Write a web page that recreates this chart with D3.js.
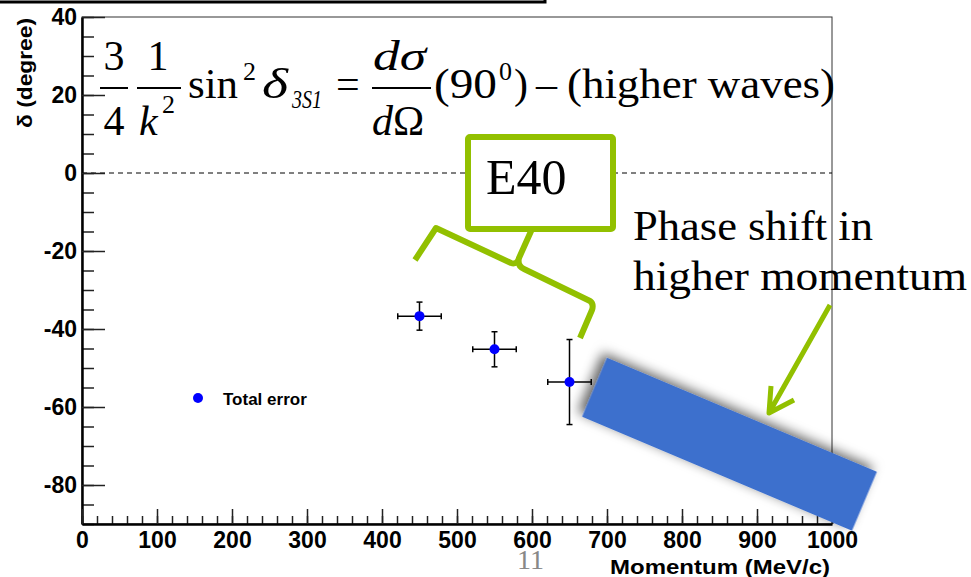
<!DOCTYPE html>
<html>
  <head>
    <title>Phase shift vs momentum</title>
    <meta charset="utf-8" />
    <style>
      body { margin: 0; background: #fff; }
      svg { display: block; }
      .axis text { font-family: "Liberation Sans", Arial, sans-serif; font-weight: bold; font-size: 23px; fill: #000; }
      .serif { font-family: "Liberation Serif", "Times New Roman", serif; fill: #000; }
    </style>
  </head>
  <body>
    <div id="plot"></div>

    <script src="https://d3js.org/d3.v7.min.js"></script>
    <script>
      // data
      const momentum = [450, 550, 650];
      const delta = [-36.7, -45.2, -53.6];
      const errMomentum = [29, 29, 29];
      const errDelta = [3.6, 4.5, 10.9];

      const xMajorTicks = [0, 100, 200, 300, 400, 500, 600, 700, 800, 900, 1000];
      const yMajorTicks = [-80, -60, -40, -20, 0, 20, 40];

      const width = 971, height = 577;
      const green = "#92c000";

      const svg = d3.select("#plot").append("svg")
        .attr("width", width)
        .attr("height", height);

      // black strip at the very top (slide title box, cut off)
      svg.append("path")
        .attr("d", "M0,2 H545 V-2")
        .attr("fill", "none")
        .attr("stroke", "#000")
        .attr("stroke-width", 3);

      const x = d3.scaleLinear().domain([0, 1000]).range([82, 832]);
      const y = d3.scaleLinear().domain([-90, 40]).range([524, 17]);

      // frame
      svg.append("rect")
        .attr("x", x(0)).attr("y", y(40))
        .attr("width", x(1000) - x(0))
        .attr("height", y(-90) - y(40))
        .attr("fill", "none")
        .attr("stroke", "#333")
        .attr("stroke-width", 1);

      // dashed zero line
      svg.append("line")
        .attr("x1", x(0)).attr("x2", x(1000))
        .attr("y1", y(0)).attr("y2", y(0))
        .attr("stroke", "#000")
        .attr("stroke-dasharray", "5,4");

      // minor ticks
      svg.append("g")
        .attr("transform", `translate(${x(0)},0)`)
        .call(d3.axisLeft(y).tickValues(d3.range(-90, 41, 5)).tickSizeInner(-12).tickSizeOuter(0).tickFormat(""))
        .call(g => g.select(".domain").remove())
        .selectAll("line").attr("stroke", "#222").attr("stroke-width", 1.5);
      svg.append("g")
        .attr("transform", `translate(0,${y(-90)})`)
        .call(d3.axisBottom(x).tickValues(d3.range(0, 1001, 20)).tickSizeInner(-8).tickSizeOuter(0).tickFormat(""))
        .call(g => g.select(".domain").remove())
        .selectAll("line").attr("stroke", "#222").attr("stroke-width", 1.5);

      // major ticks + labels (plain hyphen minus, no thousands comma)
      const plain = d => String(d);
      const yAxis = svg.append("g")
        .attr("class", "axis")
        .attr("transform", `translate(${x(0)},0)`)
        .call(d3.axisLeft(y).tickValues(yMajorTicks).tickSizeInner(-23).tickSizeOuter(0).tickPadding(5).tickFormat(plain));
      yAxis.select(".domain").attr("stroke", "#000").attr("stroke-width", 2.5);
      yAxis.selectAll("line").attr("stroke", "#222").attr("stroke-width", 1.5);

      const xAxis = svg.append("g")
        .attr("class", "axis")
        .attr("transform", `translate(0,${y(-90)})`)
        .call(d3.axisBottom(x).tickValues(xMajorTicks).tickSizeInner(-15).tickSizeOuter(0).tickPadding(8).tickFormat(plain));
      xAxis.select(".domain").attr("stroke", "#000").attr("stroke-width", 2.5);
      xAxis.selectAll("line").attr("stroke", "#222").attr("stroke-width", 1.5);

      // axis titles
      svg.append("text")
        .attr("transform", `translate(32,18) rotate(-90)`)
        .attr("text-anchor", "end")
        .attr("textLength", 110).attr("lengthAdjust", "spacingAndGlyphs")
        .style("font-family", "Liberation Sans, Arial, sans-serif")
        .style("font-weight", "bold")
        .style("font-size", "21px")
        .text("δ (degree)");
      svg.append("text")
        .attr("x", 610).attr("y", 574)
        .attr("textLength", 220).attr("lengthAdjust", "spacingAndGlyphs")
        .style("font-family", "Liberation Sans, Arial, sans-serif")
        .style("font-weight", "bold")
        .style("font-size", "21px")
        .text("Momentum (MeV/c)");

      // data points with error bars
      const pts = momentum.map((m, i) => ({ m, d: delta[i], em: errMomentum[i], ed: errDelta[i] }));
      const cap = 3;
      const eb = svg.append("g").attr("stroke", "#000").attr("stroke-width", 1.5);
      pts.forEach(p => {
        eb.append("line").attr("x1", x(p.m - p.em)).attr("x2", x(p.m + p.em)).attr("y1", y(p.d)).attr("y2", y(p.d));
        eb.append("line").attr("x1", x(p.m)).attr("x2", x(p.m)).attr("y1", y(p.d - p.ed)).attr("y2", y(p.d + p.ed));
        [p.m - p.em, p.m + p.em].forEach(v =>
          eb.append("line").attr("x1", x(v)).attr("x2", x(v)).attr("y1", y(p.d) - cap).attr("y2", y(p.d) + cap));
        [p.d - p.ed, p.d + p.ed].forEach(v =>
          eb.append("line").attr("x1", x(p.m) - cap).attr("x2", x(p.m) + cap).attr("y1", y(v)).attr("y2", y(v)));
      });
      svg.append("g").selectAll("circle")
        .data(pts)
        .join("circle")
        .attr("cx", d => x(d.m))
        .attr("cy", d => y(d.d))
        .attr("r", 5)
        .attr("fill", "#0000ff");

      // legend
      svg.append("circle").attr("cx", 198).attr("cy", 398).attr("r", 5).attr("fill", "#0000ff");
      svg.append("text")
        .attr("x", 223).attr("y", 405)
        .style("font-family", "Liberation Sans, Arial, sans-serif")
        .style("font-weight", "bold")
        .style("font-size", "17px")
        .text("Total error");

      // formula
      const f = svg.append("g").attr("class", "serif").style("font-size", "42px");
      const t = (tx, ty, s, opts = {}) => {
        const el = f.append("text").attr("x", tx).attr("y", ty).text(s);
        if (opts.size) el.style("font-size", opts.size + "px");
        if (opts.italic) el.style("font-style", "italic");
        if (opts.anchor) el.attr("text-anchor", opts.anchor);
        if (opts.len) el.attr("textLength", opts.len).attr("lengthAdjust", "spacingAndGlyphs");
        return el;
      };
      const bar = (x1, x2) => f.append("line").attr("x1", x1).attr("x2", x2).attr("y1", 88).attr("y2", 88)
        .attr("stroke", "#000").attr("stroke-width", 2);
      t(114, 70, "3", { anchor: "middle" });
      bar(100, 128);
      t(114, 135, "4", { anchor: "middle" });
      t(158, 70, "1", { anchor: "middle" });
      bar(137, 181);
      t(139, 135, "k", { italic: true });
      t(162, 113, "2", { size: 26 });
      t(188, 98, "sin", { len: 50 });
      t(243, 80, "2", { size: 26 });
      t(262, 98, "δ", { italic: true, len: 26 });
      t(292, 108, "3S1", { italic: true, size: 26, len: 30 });
      t(336, 98, "=");
      t(373, 70, "dσ", { italic: true, len: 53 });
      bar(372, 431);
      const dO = t(372, 135, "d", { italic: true });
      dO.append("tspan").style("font-style", "normal").text("Ω");
      t(434, 98, "(90", { len: 63 });
      t(499, 80, "0", { size: 26 });
      t(514, 98, ")");
      t(536, 98, "–");
      t(567, 98, "(higher waves)", { len: 268 });

      // green E40 box with bracket
      svg.append("rect")
        .attr("x", 468).attr("y", 137).attr("width", 145).attr("height", 92)
        .attr("rx", 2)
        .attr("fill", "#fff").attr("stroke", green).attr("stroke-width", 6);
      svg.append("text").attr("class", "serif")
        .attr("x", 486).attr("y", 194)
        .style("font-size", "50px")
        .text("E40");
      svg.append("path")
        .attr("d", "M415,260 L436,228 L511,263 Q517,265 519,258 L532,229 M519,258 Q517,266 524,269 L590,301 Q594,304 592,310 L580,338")
        .attr("fill", "none").attr("stroke", green).attr("stroke-width", 6)
        .attr("stroke-linejoin", "round");

      // phase shift annotation
      const ann = svg.append("g").attr("class", "serif").style("font-size", "43px");
      ann.append("text").attr("x", 633).attr("y", 240)
        .attr("textLength", 240).attr("lengthAdjust", "spacingAndGlyphs")
        .text("Phase shift in");
      ann.append("text").attr("x", 633).attr("y", 290)
        .attr("textLength", 334).attr("lengthAdjust", "spacingAndGlyphs")
        .text("higher momentum");

      // blue box with shadow
      const defs = svg.append("defs");
      const flt = defs.append("filter").attr("id", "shadow")
        .attr("x", "-30%").attr("y", "-60%").attr("width", "160%").attr("height", "220%");
      flt.append("feDropShadow")
        .attr("dx", -6).attr("dy", -3).attr("stdDeviation", 6)
        .attr("flood-color", "#000").attr("flood-opacity", 0.6);
      svg.append("rect")
        .attr("x", -146.5).attr("y", -32).attr("width", 293).attr("height", 64)
        .attr("transform", "translate(729.5,444.25) rotate(22.9)")
        .attr("fill", "#3c6fcd")
        .attr("filter", "url(#shadow)");

      // green arrow
      svg.append("path")
        .attr("d", "M830,305 L769,413 M771,386 L769,413 L794,400")
        .attr("fill", "none").attr("stroke", green).attr("stroke-width", 5)
        .attr("stroke-linejoin", "round");

      // slide number
      svg.append("text").attr("class", "serif")
        .attr("x", 517).attr("y", 569)
        .style("font-size", "28px")
        .style("fill", "#888")
        .text("11");
    </script>
  </body>
</html>
